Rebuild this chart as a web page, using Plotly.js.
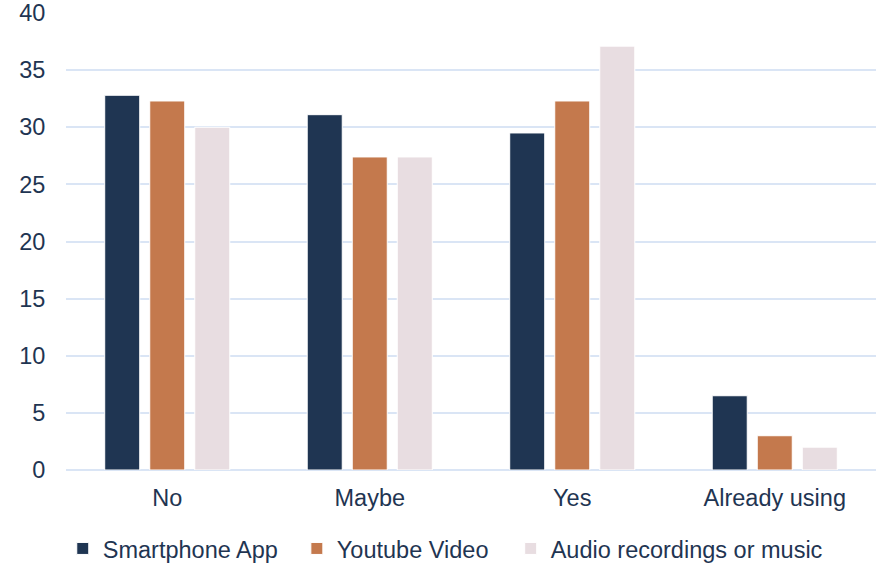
<!DOCTYPE html>
<html><head><meta charset="utf-8">
<script src="https://cdn.plot.ly/plotly-3.0.1.min.js"></script>
<style>html,body{margin:0;padding:0;background:#fff}#chart{width:879px;height:566px}</style>
</head><body><div id="chart"></div>
<script>
var categories = ["No", "Maybe", "Yes", "Already using"];
var seriesNames = ["Smartphone App", "Youtube Video", "Audio recordings or music"];
var smartphoneApp = [32.8, 31.1, 29.5, 6.5];
var youtubeVideo = [32.3, 27.4, 32.3, 3.0];
var audioRecordings = [30.0, 27.4, 37.1, 2.0];
var colors = ["#1f3552", "#c4794d", "#e8dde1"];
var values = [smartphoneApp, youtubeVideo, audioRecordings];
var legendIds = ["legend", "legend2", "legend3"];
var legendX = [-0.004, 0.285, 0.549];

var traces = values.map(function(v, i){
  return {type:"bar", name:seriesNames[i], x:categories, y:v, legend:legendIds[i],
    marker:{color:colors[i], line:{color:"#ffffff", width:1}}, hoverinfo:"none"};
});
var textColor = "#1f3552";
var fs = 23.5;
var layout = {
  width:879, height:566,
  margin:{l:66, r:3, t:13, b:96, autoexpand:false},
  paper_bgcolor:"#fff", plot_bgcolor:"#fff",
  font:{family:"Liberation Sans, Arial, sans-serif", size:fs, color:textColor},
  barmode:"group", bargap:0.333, bargroupgap:0.222,
  xaxis:{showgrid:false, zeroline:false, showline:false, ticks:"outside", ticklen:7, tickcolor:"rgba(0,0,0,0)", tickfont:{size:fs, color:textColor}},
  yaxis:{range:[0,40], dtick:5, showgrid:true, gridcolor:"#dae5f5", gridwidth:2, zeroline:true, zerolinecolor:"#dae5f5", zerolinewidth:2,
    showline:false, ticks:"outside", ticklen:15, tickcolor:"rgba(0,0,0,0)", tickfont:{size:fs, color:textColor}},
  showlegend:true
};
legendIds.forEach(function(id, i){
  layout[id] = {orientation:"h", x:legendX[i], xanchor:"left", y:-0.124, yanchor:"top", font:{size:fs, color:textColor}, itemwidth:30, bgcolor:"rgba(0,0,0,0)"};
});
Plotly.newPlot("chart", traces, layout, {staticPlot:true, displayModeBar:false});
</script></body></html>
